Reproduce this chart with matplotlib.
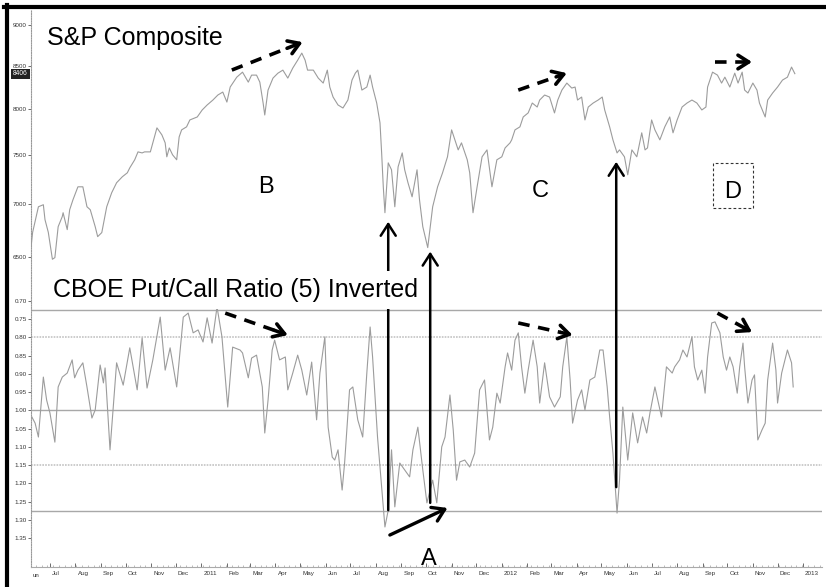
import matplotlib
matplotlib.use("Agg")
import matplotlib.pyplot as plt
import matplotlib.dates as mdates
import matplotlib.transforms as mtransforms
import numpy as np
import pandas as pd
from matplotlib.patches import ConnectionPatch, Rectangle
from matplotlib.lines import Line2D
from matplotlib.ticker import FixedLocator, FuncFormatter, NullLocator

plt.rcParams["font.family"] = ["Liberation Sans", "DejaVu Sans"]

# ---------------------------------------------------------------------------
# Data (x = days after START)
# ---------------------------------------------------------------------------
START = pd.Timestamp("2010-06-08")
END_DAY = 961

sp_day = [0, 2, 9, 15, 17, 21, 26, 29, 33, 38,
          39, 44, 47, 51, 57, 63, 68, 72, 78, 81,
          86, 92, 98, 104, 111, 117, 120, 126, 130, 135,
          138, 145, 149, 153, 159, 163, 165, 168, 172, 177,
          180, 183, 189, 193, 202, 208, 214, 221, 227, 233,
          238, 242, 250, 257, 264, 268, 274, 278, 282, 284,
          288, 294, 300, 306, 312, 318, 324, 329, 333, 336,
          343, 349, 355, 360, 363, 367, 373, 379, 385, 390,
          394, 397, 402, 408, 412, 415, 420, 424, 426, 428,
          430, 434, 438, 442, 446, 451, 454, 458, 463, 469,
          472, 476, 482, 488, 494, 500, 506, 511, 515, 519,
          523, 530, 533, 537, 542, 548, 554, 560, 566, 572,
          576, 582, 584, 588, 594, 598, 604, 609, 615, 618,
          624, 630, 636, 640, 645, 651, 657, 661, 664, 669,
          673, 677, 683, 689, 694, 697, 703, 707, 712, 715,
          721, 725, 730, 736, 742, 746, 749, 754, 758, 764,
          770, 776, 780, 785, 791, 797, 803, 809, 815, 820,
          822, 828, 834, 839, 843, 849, 855, 859, 864, 867,
          871, 877, 882, 885, 892, 895, 901, 907, 913, 919,
          924, 928]
sp_val = [6590, 6730, 6975, 6995, 6850, 6730, 6480, 6495, 6783, 6880,
          6917, 6755, 6946, 7044, 7173, 7173, 6975, 6946, 6783, 6689,
          6727, 6975, 7113, 7214, 7275, 7315, 7366, 7450, 7533, 7522,
          7533, 7533, 7661, 7791, 7715, 7629, 7481, 7575, 7502, 7450,
          7693, 7769, 7802, 7878, 7911, 7989, 8045, 8101, 8158, 8192,
          8078, 8250, 8365, 8424, 8307, 8389, 8389, 8307, 8067, 7933,
          8215, 8354, 8412, 8448, 8354, 8472, 8567, 8652, 8567, 8448,
          8448, 8354, 8296, 8448, 8250, 8135, 8045, 8011, 8101, 8331,
          8412, 8448, 8215, 8250, 8389, 8250, 8067, 7846, 7522, 7173,
          6917, 7418, 7346, 6975, 7377, 7522, 7346, 7214, 7073, 7346,
          7044, 6783, 6587, 6975, 7173, 7315, 7481, 7769, 7661, 7554,
          7629, 7450, 7315, 6917, 7173, 7481, 7554, 7173, 7450, 7481,
          7575, 7629, 7661, 7769, 7802, 7911, 7956, 8067, 8022, 8101,
          8158, 8135, 7956, 8101, 8215, 8296, 8238, 8250, 8101, 8135,
          7878, 8022, 8067, 8101, 8135, 7989, 7802, 7661, 7522, 7554,
          7481, 7295, 7554, 7481, 7737, 7554, 7575, 7878, 7769, 7661,
          7802, 7911, 7737, 7878, 8022, 8067, 8101, 8067, 7989, 8022,
          8250, 8424, 8389, 8296, 8365, 8250, 8412, 8296, 8424, 8215,
          8181, 8296, 8215, 8067, 7911, 8101, 8181, 8250, 8331, 8365,
          8484, 8406]
LAST_PRICE = "8406"

pc_day = [1, 5, 9, 15, 19, 23, 29, 33, 38, 44,
          50, 53, 57, 63, 68, 74, 78, 84, 88, 90,
          96, 104, 112, 120, 129, 135, 141, 148, 157, 163,
          169, 177, 185, 191, 197, 203, 209, 214, 220, 226,
          232, 239, 245, 254, 257, 264, 268, 274, 281, 284,
          288, 293, 296, 302, 309, 312, 318, 324, 329, 335,
          341, 347, 351, 357, 361, 366, 369, 373, 378, 381,
          387, 391, 397, 403, 408, 412, 415, 421, 426, 430,
          434, 438, 442, 448, 454, 460, 464, 470, 476, 481,
          488, 493, 499, 503, 509, 513, 517, 521, 527, 533,
          539, 545, 551, 557, 561, 566, 570, 576, 579, 584,
          588, 592, 596, 600, 604, 610, 615, 618, 624, 630,
          636, 643, 646, 651, 655, 658, 664, 669, 673, 679,
          685, 691, 695, 700, 703, 707, 712, 715, 719, 725,
          731, 737, 743, 748, 752, 758, 766, 772, 779, 782,
          788, 792, 797, 803, 806, 810, 815, 819, 822, 827,
          831, 837, 841, 845, 849, 853, 858, 861, 865, 867,
          871, 876, 879, 883, 888, 892, 895, 901, 905, 907,
          912, 916, 919, 924, 926]
pc_val = [1.018, 1.035, 1.073, 0.909, 0.972, 1.007, 1.087, 0.936, 0.909, 0.898,
          0.862, 0.911, 0.890, 0.870, 0.936, 1.021, 0.999, 0.876, 0.925, 0.884,
          1.108, 0.870, 0.931, 0.829, 0.944, 0.802, 0.939, 0.862, 0.745, 0.890,
          0.829, 0.936, 0.745, 0.734, 0.788, 0.780, 0.813, 0.747, 0.816, 0.717,
          0.799, 0.991, 0.827, 0.835, 0.843, 0.911, 0.857, 0.849, 0.936, 1.062,
          0.972, 0.835, 0.808, 0.862, 0.854, 0.944, 0.898, 0.849, 0.890, 0.958,
          0.868, 1.026, 0.898, 0.799, 1.046, 1.128, 1.136, 1.108, 1.218, 1.144,
          0.944, 0.936, 1.026, 1.073, 0.898, 0.772, 0.854, 1.073, 1.210, 1.319,
          1.273, 1.108, 1.264, 1.144, 1.163, 1.182, 1.108, 1.046, 1.163, 1.253,
          1.191, 1.253, 1.100, 1.073, 0.958, 1.054, 1.191, 1.141, 1.136, 1.155,
          1.117, 0.944, 0.917, 1.081, 1.046, 0.953, 0.980, 0.881, 0.843, 0.890,
          0.808, 0.788, 0.881, 0.953, 0.890, 0.808, 0.881, 0.980, 0.870, 0.963,
          0.991, 0.963, 0.881, 0.799, 0.917, 1.035, 0.972, 0.944, 0.999, 0.917,
          0.909, 0.835, 0.835, 0.936, 1.018, 1.117, 1.281, 1.191, 0.991, 1.136,
          1.007, 1.089, 1.018, 1.062, 1.007, 0.936, 1.018, 0.881, 0.898, 0.881,
          0.862, 0.835, 0.854, 0.799, 0.881, 0.917, 0.890, 0.953, 0.854, 0.761,
          0.758, 0.788, 0.854, 0.890, 0.854, 0.881, 0.953, 0.881, 0.816, 0.881,
          0.980, 0.917, 0.903, 1.081, 1.054, 1.035, 0.917, 0.816, 0.890, 0.980,
          0.898, 0.862, 0.835, 0.870, 0.936]

sp_ticks = [6500, 7000, 7500, 8000, 8500, 9000]
pc_ticks = [0.70, 0.75, 0.80, 0.85, 0.90, 0.95, 1.00, 1.05, 1.10,
            1.15, 1.20, 1.25, 1.30, 1.35]
pc_solid_levels = [0.725, 1.00, 1.275]
pc_dotted_levels = [0.80, 1.15]

# annotations: vertical arrows (day, ratio tail, price tip)
arrow_day = [434, 485, 711]
arrow_tail = [1.273, 1.253, 1.210]
arrow_tip = [6830, 6550, 7429]
# dashed divergence arrows: (panel, day0, v0, day1, v1)
dash_arrows = [
    ("sp", 244, 8449, 330, 8786),
    ("pc", 236, 0.734, 312, 0.794),
    ("sp", 592, 8215, 651, 8412),
    ("pc", 592, 0.761, 658, 0.794),
    ("sp", 831, 8545, 876, 8545),
    ("pc", 834, 0.734, 876, 0.786),
]


def day(d):
    return mdates.date2num(START + pd.Timedelta(days=float(d)))


# ---------------------------------------------------------------------------
# Layout (pixel based, 826x587)
# ---------------------------------------------------------------------------
W, H = 826, 587
fig = plt.figure(figsize=(W / 100, H / 100), dpi=100)
fig.patch.set_facecolor("white")


def fx(px):
    return px / W


def fy(py):
    return 1 - py / H


L, R = 31, 822
ax_up = fig.add_axes([fx(L), fy(278), fx(R) - fx(L), fy(10) - fy(278)])
ax_lo = fig.add_axes([fx(L), fy(567), fx(R) - fx(L), fy(278) - fy(567)], sharex=ax_up)

line_kw = dict(color="#9c9c9c", lw=0.8)
ax_up.plot([day(d) for d in sp_day], sp_val, **line_kw)
ax_lo.plot([day(d) for d in pc_day], pc_val, **line_kw)

for lvl in pc_solid_levels:
    ax_lo.axhline(lvl, color="#a8a8a8", lw=1.0, zorder=0)
for lvl in pc_dotted_levels:
    ax_lo.axhline(lvl, color="#c4c4c4", lw=1.2, ls=(0, (1, 0.7)), zorder=0)

ax_up.set_xlim(day(0), day(END_DAY))

# upper: log price scale
ax_up.set_yscale("log")
ax_up.set_ylim(6312, 9191)
ax_up.yaxis.set_major_locator(FixedLocator(sp_ticks))
ax_up.yaxis.set_major_formatter(FuncFormatter(lambda v, p: f"{v:.0f}"))
ax_up.yaxis.set_minor_locator(NullLocator())

# lower: inverted ratio
ax_lo.set_ylim(1.4285, 0.638)
ax_lo.yaxis.set_major_locator(FixedLocator(pc_ticks))
ax_lo.yaxis.set_major_formatter(FuncFormatter(lambda v, p: f"{v:.2f}"))

for ax in (ax_up, ax_lo):
    for s in ("top", "right", "bottom"):
        ax.spines[s].set_visible(False)
    ax.spines["left"].set_color("#999999")
    ax.spines["left"].set_linestyle((0, (1, 1.2)))
    ax.spines["left"].set_linewidth(0.8)
    ax.tick_params(axis="y", length=2, width=0.5, labelsize=4.5, pad=1,
                   colors="#333333")
    ax.set_facecolor("white")

ax_up.tick_params(axis="x", bottom=False, labelbottom=False)

# month ticks on lower axis
month_starts = pd.date_range("2010-07-01", "2013-01-01", freq="MS")
month_labels = [str(m.year) if m.month == 1 else m.strftime("%b") for m in month_starts]
ax_lo.set_xticks(mdates.date2num(month_starts))
ax_lo.set_xticklabels(month_labels)
ax_lo.xaxis.set_minor_locator(mdates.WeekdayLocator(byweekday=mdates.MO))
ax_lo.spines["bottom"].set_visible(True)
ax_lo.spines["bottom"].set_color("#aaaaaa")
ax_lo.spines["bottom"].set_linewidth(0.8)
ax_lo.tick_params(axis="x", which="major", direction="in", length=3, width=0.5,
                  labelsize=4.5, pad=3, colors="#333333")
ax_lo.tick_params(axis="x", which="minor", direction="in", length=1.5, width=0.4,
                  colors="#888888")
ax_up.tick_params(axis="x", which="both", bottom=False, labelbottom=False)
offset = mtransforms.ScaledTranslation(1.5 / 72, 0, fig.dpi_scale_trans)
for lbl in ax_lo.get_xticklabels():
    lbl.set_ha("left")
    lbl.set_transform(lbl.get_transform() + offset)
ax_lo.text(0.002, -0.028, "un", transform=ax_lo.transAxes, fontsize=4.5,
           color="#333333", ha="left", va="center")

# last price tag on the axis
ax_up.text(-0.004, 8406, LAST_PRICE,
           transform=mtransforms.blended_transform_factory(ax_up.transAxes, ax_up.transData),
           ha="right", va="center", fontsize=4.8, color="white",
           bbox=dict(boxstyle="square,pad=0.25", fc="#222222", ec="none"))

# ---------------------------------------------------------------------------
# Annotations
# ---------------------------------------------------------------------------
ax_up.text(0.020, 0.869, "S&P Composite", transform=ax_up.transAxes,
           fontsize=18, ha="left", va="baseline")
ax_up.text(0.297, 0.317, "B", transform=ax_up.transAxes, fontsize=17,
           ha="center", va="baseline")
ax_up.text(0.6435, 0.302, "C", transform=ax_up.transAxes, fontsize=17,
           ha="center", va="baseline")
ax_up.text(0.8865, 0.2985, "D", transform=ax_up.transAxes, fontsize=17,
           ha="center", va="baseline")
ax_up.add_patch(Rectangle((0.862, 0.261), 0.0506, 0.168, transform=ax_up.transAxes,
                          fill=False, ec="#333333", lw=0.8, ls=(0, (2.5, 2))))
ax_lo.text(0.503, 0.007, "A", transform=ax_lo.transAxes, fontsize=17,
           ha="center", va="baseline", clip_on=False)

fig.text(fx(53), fy(297), "CBOE Put/Call Ratio (5) Inverted", fontsize=18,
         ha="left", va="baseline", zorder=5,
         bbox=dict(boxstyle="square,pad=0.28", fc="white", ec="none"))

for d, tail, tip in zip(arrow_day, arrow_tail, arrow_tip):
    con = ConnectionPatch(xyA=(day(d), tail), coordsA=ax_lo.transData,
                          xyB=(day(d), tip), coordsB=ax_up.transData,
                          arrowstyle="->,head_length=0.7,head_width=0.45",
                          mutation_scale=12, lw=1.8, color="black",
                          shrinkA=0, shrinkB=0, zorder=2)
    fig.add_artist(con)

ax_lo.annotate("", xy=(day(506), 1.267), xytext=(day(436), 1.341),
               arrowprops=dict(arrowstyle="->,head_length=0.7,head_width=0.45",
                               mutation_scale=12, lw=2.4, color="black",
                               shrinkA=0, shrinkB=0),
               annotation_clip=False)

for panel, d0, v0, d1, v1 in dash_arrows:
    ax = ax_up if panel == "sp" else ax_lo
    f = 0.78
    dm = d0 + f * (d1 - d0)
    if panel == "sp":
        vm = v0 * (v1 / v0) ** f
    else:
        vm = v0 + f * (v1 - v0)
    ax.plot([day(d0), day(dm)], [v0, vm], color="black", lw=2.6,
            ls=(0, (3.2, 2.4)), solid_capstyle="butt")
    ax.annotate("", xy=(day(d1), v1), xytext=(day(dm), vm),
                arrowprops=dict(arrowstyle="->,head_length=0.55,head_width=0.35",
                                mutation_scale=14, lw=2.6, color="black",
                                shrinkA=0, shrinkB=0))

# outer frame: heavy black top/left, thin right/bottom
fig.add_artist(Line2D([fx(4), 1], [fy(6.5), fy(6.5)], color="black", lw=3,
                      transform=fig.transFigure))
fig.add_artist(Line2D([fx(6.5), fx(6.5)], [0, fy(5)], color="black", lw=3,
                      transform=fig.transFigure))

fig.savefig("out.png", dpi=100, facecolor="white")
